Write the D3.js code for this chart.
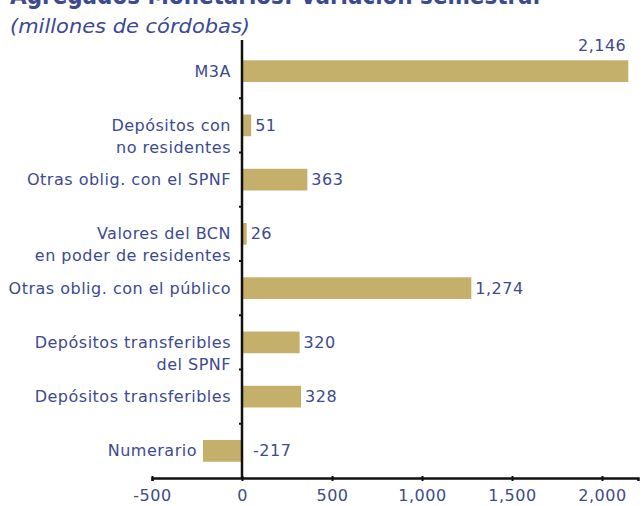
<!DOCTYPE html>
<html lang="es">
<head>
<meta charset="UTF-8">
<script src="https://d3js.org/d3.v7.min.js"></script>
<style>
  body { margin: 0; background: #fff; }
  svg { display: block; font-family: "DejaVu Sans", sans-serif; }
  .lbl { fill: #3c4a90; font-size: 16px; letter-spacing: 0.5px; }
</style>
</head>
<body>
<div id="chart"></div>
<script>
// datos
const categories = [
  "M3A",
  "Depósitos con\nno residentes",
  "Otras oblig. con el SPNF",
  "Valores del BCN\nen poder de residentes",
  "Otras oblig. con el público",
  "Depósitos transferibles\ndel SPNF",
  "Depósitos transferibles",
  "Numerario"
];
const values = [2146, 51, 363, 26, 1274, 320, 328, -217];
const xTicks = [-500, 0, 500, 1000, 1500, 2000];

const W = 644, H = 506;
const blue = "#3c4a90", gold = "#c4b06a";

const svg = d3.select("#chart").append("svg")
  .attr("width", W).attr("height", H);

// título (cortado arriba, como en el original)
svg.append("text")
  .attr("x", 10).attr("y", 4)
  .attr("fill", blue)
  .attr("textLength", 530).attr("lengthAdjust", "spacingAndGlyphs")
  .style("font-size", "24px").style("font-weight", "bold")
  .text("Agregados Monetarios: Variación semestral");

svg.append("text")
  .attr("x", 10).attr("y", 33)
  .attr("fill", blue)
  .attr("textLength", 240).attr("lengthAdjust", "spacingAndGlyphs")
  .style("font-size", "19px").style("font-style", "italic")
  .text("(millones de córdobas)");

const x = d3.scaleLinear().domain([-500, 2200]).range([152, 638]);
const y = d3.scaleBand().domain(categories).range([44, 478])
  .paddingInner(0.6).paddingOuter(0.3);

const data = categories.map((c, i) => ({ cat: c, val: values[i] }));
const fmt = d3.formatLocale({ decimal: ".", thousands: ",", grouping: [3], currency: ["", ""], minus: "-" }).format(",");

// barras
svg.selectAll("rect.bar").data(data).join("rect")
  .attr("class", "bar")
  .attr("x", d => x(Math.min(0, d.val)))
  .attr("width", d => Math.abs(x(d.val) - x(0)))
  .attr("y", d => y(d.cat))
  .attr("height", y.bandwidth())
  .attr("fill", gold);

// eje x
const xAxis = svg.append("g")
  .attr("transform", `translate(0,${478})`)
  .call(d3.axisBottom(x).tickValues(xTicks).tickFormat(fmt).tickSize(3));
xAxis.select(".domain").attr("stroke", "#111").attr("stroke-width", 2.5);
xAxis.selectAll(".tick line").attr("stroke", "#111").attr("stroke-width", 2).attr("y1", -2);
xAxis.selectAll(".tick text")
  .attr("fill", blue).attr("dy", "1.05em")
  .style("font-size", "16px").style("letter-spacing", "0.5px")
  .style("font-family", "DejaVu Sans, sans-serif");

// eje y (línea en cero)
svg.append("line")
  .attr("x1", x(0)).attr("x2", x(0))
  .attr("y1", 40).attr("y2", 478)
  .attr("stroke", "#111").attr("stroke-width", 2.5);

// marcas entre categorías
const half = (y.step() - y.bandwidth()) / 2;
svg.selectAll("line.ytick").data(categories.slice(1)).join("line")
  .attr("class", "ytick")
  .attr("x1", x(0) - 3).attr("x2", x(0))
  .attr("y1", d => y(d) - half).attr("y2", d => y(d) - half)
  .attr("stroke", "#111").attr("stroke-width", 2);

// etiquetas de categoría
const labelX = d => d.val < 0 ? x(d.val) - 6 : x(0) - 11;
svg.selectAll("text.cat").data(data).join("text")
  .attr("class", "lbl cat")
  .attr("text-anchor", "end")
  .attr("y", d => y(d.cat) + y.bandwidth() / 2)
  .each(function (d) {
    d3.select(this).selectAll("tspan").data(d.cat.split("\n")).join("tspan")
      .attr("x", labelX(d))
      .attr("dy", (l, i) => i === 0 ? "0.35em" : "22px")
      .text(l => l);
  });

// etiquetas de valor
svg.selectAll("text.val").data(data).join("text")
  .attr("class", "lbl val")
  .attr("text-anchor", (d, i) => i === 0 ? "end" : "start")
  .attr("x", (d, i) => i === 0 ? x(d.val) - 2 : (d.val < 0 ? x(0) + 11 : x(d.val) + 4))
  .attr("y", (d, i) => i === 0 ? y(d.cat) - 15 : y(d.cat) + y.bandwidth() / 2)
  .attr("dy", "0.35em")
  .text(d => fmt(d.val));
</script>
</body>
</html>
